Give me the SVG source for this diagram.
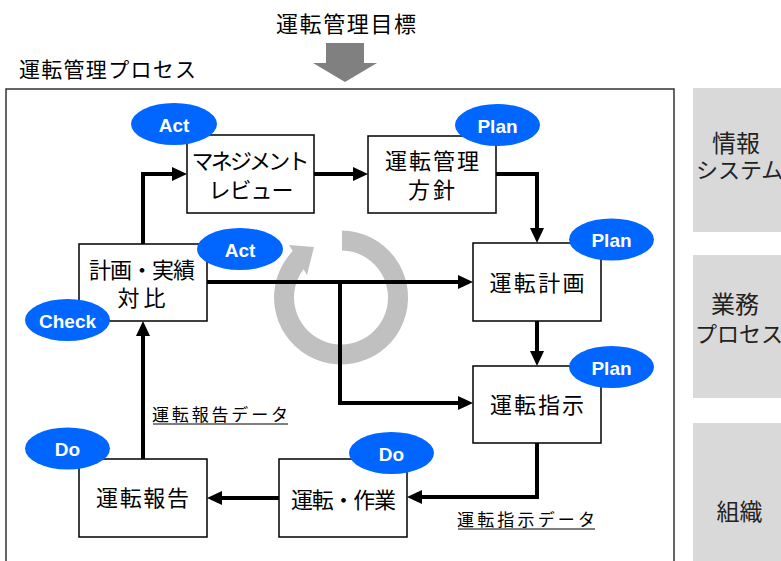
<svg xmlns="http://www.w3.org/2000/svg" width="781" height="561" viewBox="0 0 781 561">
<style>
.jp{font-family:"Noto Sans CJK JP","Noto Sans",sans-serif;fill:#000}
.bx{fill:#fff;stroke:#000;stroke-width:1.5}
.el{fill:#0066ff}
.lb{font-family:"Liberation Sans",Arial,sans-serif;font-weight:bold;font-size:19px;fill:#fff;text-anchor:middle}
.t22{font-size:22px;text-anchor:middle}
.t17{font-size:17px;text-anchor:middle}
.side{fill:#d9d9d9}
.st{fill:#222}
.con{fill:none;stroke:#000;stroke-width:4;stroke-linejoin:miter}
</style>
<defs>
<marker id="ah" markerUnits="userSpaceOnUse" markerWidth="15" markerHeight="14" refX="5" refY="7" orient="auto">
<path d="M0,0 L15,7 L0,14 z" fill="#000"/>
</marker>
</defs>
<rect width="781" height="561" fill="#fff"/>

<g id="target">
<text class="jp t22" x="346" y="31.5" textLength="140" lengthAdjust="spacing">運転管理目標</text>
<polygon points="326,43 364,43 364,63 377,63 345,82 313,63 326,63" fill="#808080"/>
</g>

<g id="frame">
<text class="jp" x="19" y="77" font-size="21" textLength="177" lengthAdjust="spacing">運転管理プロセス</text>
<rect x="6" y="89" width="668" height="490" fill="none" stroke="#333" stroke-width="1.5"/>
</g>

<g id="side">
<rect class="side" x="693" y="88" width="100" height="144"/>
<rect class="side" x="693" y="255" width="100" height="143"/>
<rect class="side" x="693" y="423" width="100" height="150"/>
<text class="jp st" x="736" y="152" font-size="24" text-anchor="middle">情報</text>
<text class="jp st" x="696" y="178" font-size="22">システム</text>
<text class="jp st" x="735" y="313" font-size="24" text-anchor="middle">業務</text>
<text class="jp st" x="695" y="342" font-size="22">プロセス</text>
<text class="jp st" x="739.5" y="520" font-size="23" text-anchor="middle">組織</text>
</g>

<g id="cycle">
<path d="M342,230.5 A67,67 0 1 1 292.7,251.1 L289,245 L314,247 L307,275 L303.5,269.2 A47,47 0 1 0 342,250.5 Z" fill="#c0c0c0"/>
</g>

<g id="connectors">
<path class="con" d="M143,244 V174 H177" marker-end="url(#ah)"/>
<path class="con" d="M314,174 H358" marker-end="url(#ah)"/>
<path class="con" d="M496,174 H537 V233" marker-end="url(#ah)"/>
<path class="con" d="M207,282 H463" marker-end="url(#ah)"/>
<path class="con" d="M340,282 V403 H463" marker-end="url(#ah)"/>
<path class="con" d="M537,321 V356" marker-end="url(#ah)"/>
<path class="con" d="M537,443 V497 H417" marker-end="url(#ah)"/>
<path class="con" d="M279,498 H217" marker-end="url(#ah)"/>
<path class="con" d="M143,459 V331" marker-end="url(#ah)"/>
<text class="jp t17" x="220" y="421" textLength="136" lengthAdjust="spacing">運転報告データ</text>
<line x1="153" y1="424" x2="288" y2="424" stroke="#000" stroke-width="1.2"/>
<text class="jp t17" x="526" y="526" textLength="138" lengthAdjust="spacing">運転指示データ</text>
<line x1="458" y1="529" x2="595" y2="529" stroke="#000" stroke-width="1.2"/>
</g>

<g id="review">
<rect class="bx" x="187" y="135" width="127" height="78"/>
<text class="jp t22" x="250.5" y="169" font-size="21" textLength="118" lengthAdjust="spacing">マネジメント</text>
<text class="jp t22" x="251" y="198" font-size="21" textLength="85" lengthAdjust="spacing">レビュー</text>
<ellipse class="el" cx="174" cy="124" rx="43" ry="21"/>
<text class="lb" x="174" y="131.5">Act</text>
</g>

<g id="policy">
<rect class="bx" x="368" y="136" width="128" height="77"/>
<text class="jp t22" x="432" y="168.5" textLength="94" lengthAdjust="spacing">運転管理</text>
<text class="jp t22" x="431.5" y="198" textLength="47" lengthAdjust="spacing">方針</text>
<ellipse class="el" cx="497.5" cy="125" rx="42.5" ry="21"/>
<text class="lb" x="497.5" y="132.5">Plan</text>
</g>

<g id="plan">
<rect class="bx" x="473" y="243" width="128" height="78"/>
<text class="jp t22" x="537" y="291" textLength="95" lengthAdjust="spacing">運転計画</text>
<ellipse class="el" cx="611.5" cy="239.5" rx="42.5" ry="21"/>
<text class="lb" x="611.5" y="247">Plan</text>
</g>

<g id="instruction">
<rect class="bx" x="473" y="366" width="128" height="77"/>
<text class="jp t22" x="537" y="413" textLength="94" lengthAdjust="spacing">運転指示</text>
<ellipse class="el" cx="611.5" cy="367" rx="42.5" ry="21"/>
<text class="lb" x="611.5" y="374.5">Plan</text>
</g>

<g id="compare">
<rect class="bx" x="79" y="244" width="128" height="77"/>
<text class="jp t22" x="142" y="277.5" font-size="21" textLength="106" lengthAdjust="spacing">計画・実績</text>
<text class="jp t22" x="141.5" y="306" font-size="21" textLength="48" lengthAdjust="spacing">対比</text>
<ellipse class="el" cx="240" cy="249" rx="43" ry="21"/>
<text class="lb" x="240" y="256.5">Act</text>
<ellipse class="el" cx="67.5" cy="320" rx="42.5" ry="21"/>
<text class="lb" x="67.5" y="327.5">Check</text>
</g>

<g id="report">
<rect class="bx" x="79" y="459" width="128" height="78"/>
<text class="jp t22" x="142.5" y="506" textLength="93" lengthAdjust="spacing">運転報告</text>
<ellipse class="el" cx="67.5" cy="448.5" rx="42.5" ry="21"/>
<text class="lb" x="67.5" y="456">Do</text>
</g>

<g id="operation">
<rect class="bx" x="279" y="459" width="128" height="78"/>
<text class="jp t22" x="343.5" y="507.5" textLength="105" lengthAdjust="spacing">運転・作業</text>
<ellipse class="el" cx="391.5" cy="453" rx="42.5" ry="21"/>
<text class="lb" x="391.5" y="460.5">Do</text>
</g>
</svg>
